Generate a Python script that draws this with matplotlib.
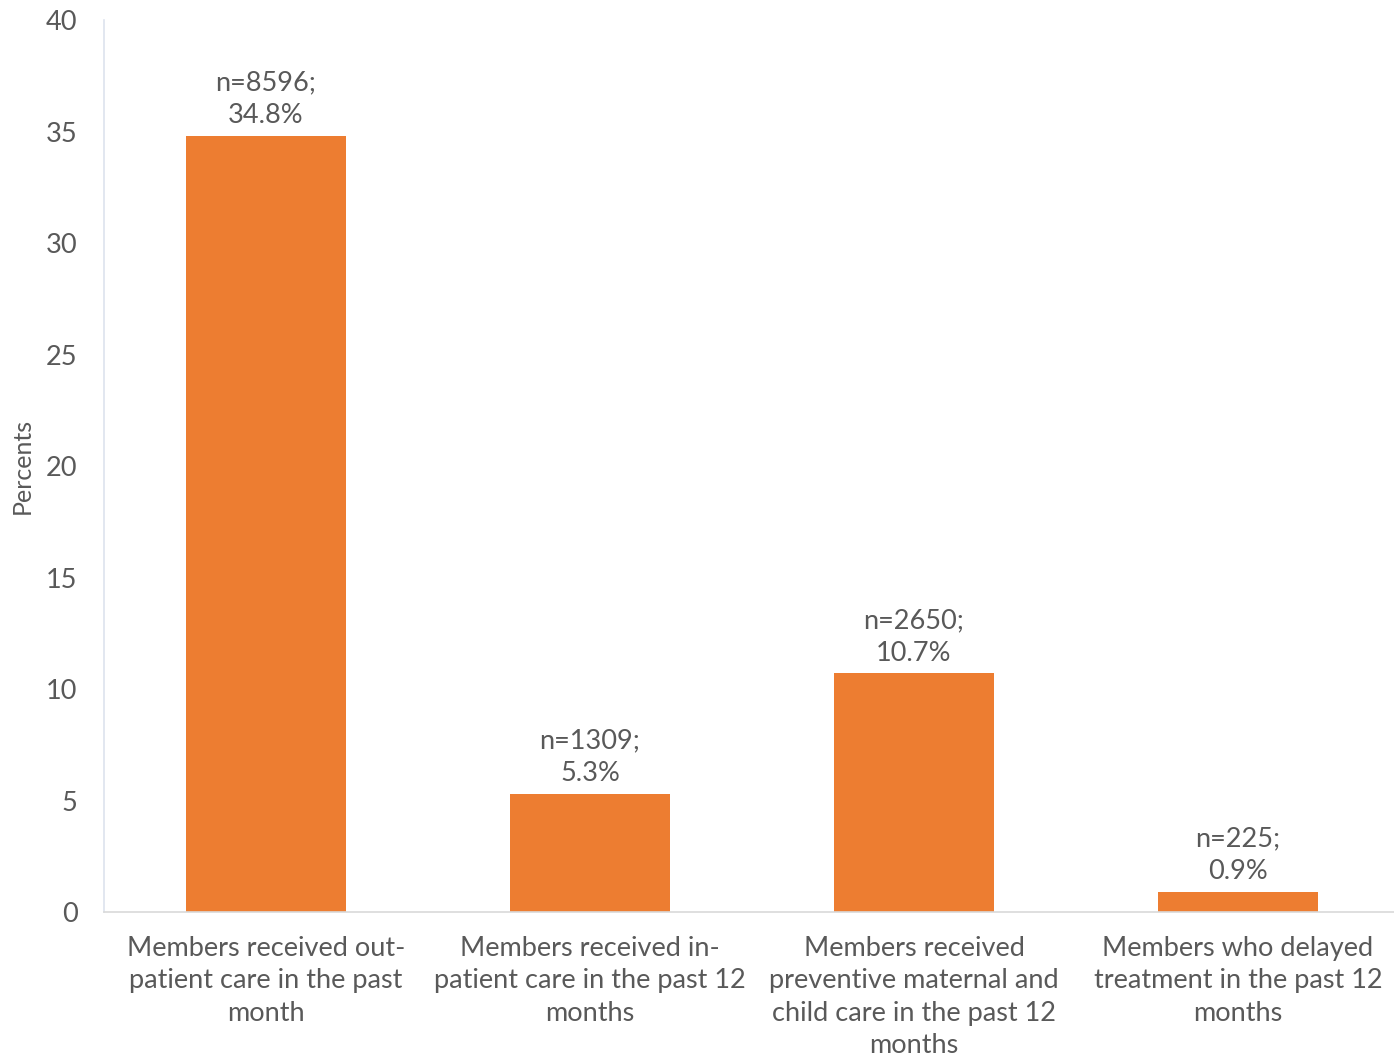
import matplotlib
matplotlib.use("Agg")
import matplotlib.pyplot as plt

categories = [
    "Members received out-\npatient care in the past\nmonth",
    "Members received in-\npatient care in the past 12\nmonths",
    "Members received\npreventive maternal and\nchild care in the past 12\nmonths",
    "Members who delayed\ntreatment in the past 12\nmonths",
]
percents = [34.8, 5.3, 10.7, 0.9]
counts = [8596, 1309, 2650, 225]
yticks = [0, 5, 10, 15, 20, 25, 30, 35, 40]

plt.rcParams['font.family'] = ['Lato', 'DejaVu Sans']
gray = '#595959'

fig = plt.figure(figsize=(13.94, 10.61), dpi=100)
ax = fig.add_axes([0.0746, 0.1404, 0.9297, 0.8406])
x = list(range(len(categories)))
ax.bar(x, percents, width=0.495, color='#ED7D31', zorder=2)
for xi, p, n in zip(x, percents, counts):
    ax.text(xi, p + 0.35, f"n={n};\n{p}%", ha='center', va='bottom',
            fontsize=19.5, color=gray, linespacing=1.38)

ax.set_xlim(-0.5, 3.5)
ax.set_ylim(0, 40)
ax.set_yticks(yticks)
ax.set_yticklabels([str(t) for t in yticks], fontsize=19.5, color=gray)
ax.set_xticks(x)
ax.set_xticklabels(categories, fontsize=19.5, color=gray, linespacing=1.38, va='top')
ax.tick_params(axis='both', length=0)
ax.tick_params(axis='y', pad=19)
ax.tick_params(axis='x', pad=17)
ax.set_ylabel("Percents", fontsize=18, color=gray, labelpad=9)
for s in ['top', 'right']:
    ax.spines[s].set_visible(False)
ax.spines['left'].set_color('#dde3ee')
ax.spines['bottom'].set_color('#d9d9d9')
ax.spines['left'].set_linewidth(1.2)
ax.spines['bottom'].set_linewidth(1.2)

fig.savefig("out.png", dpi=100)
